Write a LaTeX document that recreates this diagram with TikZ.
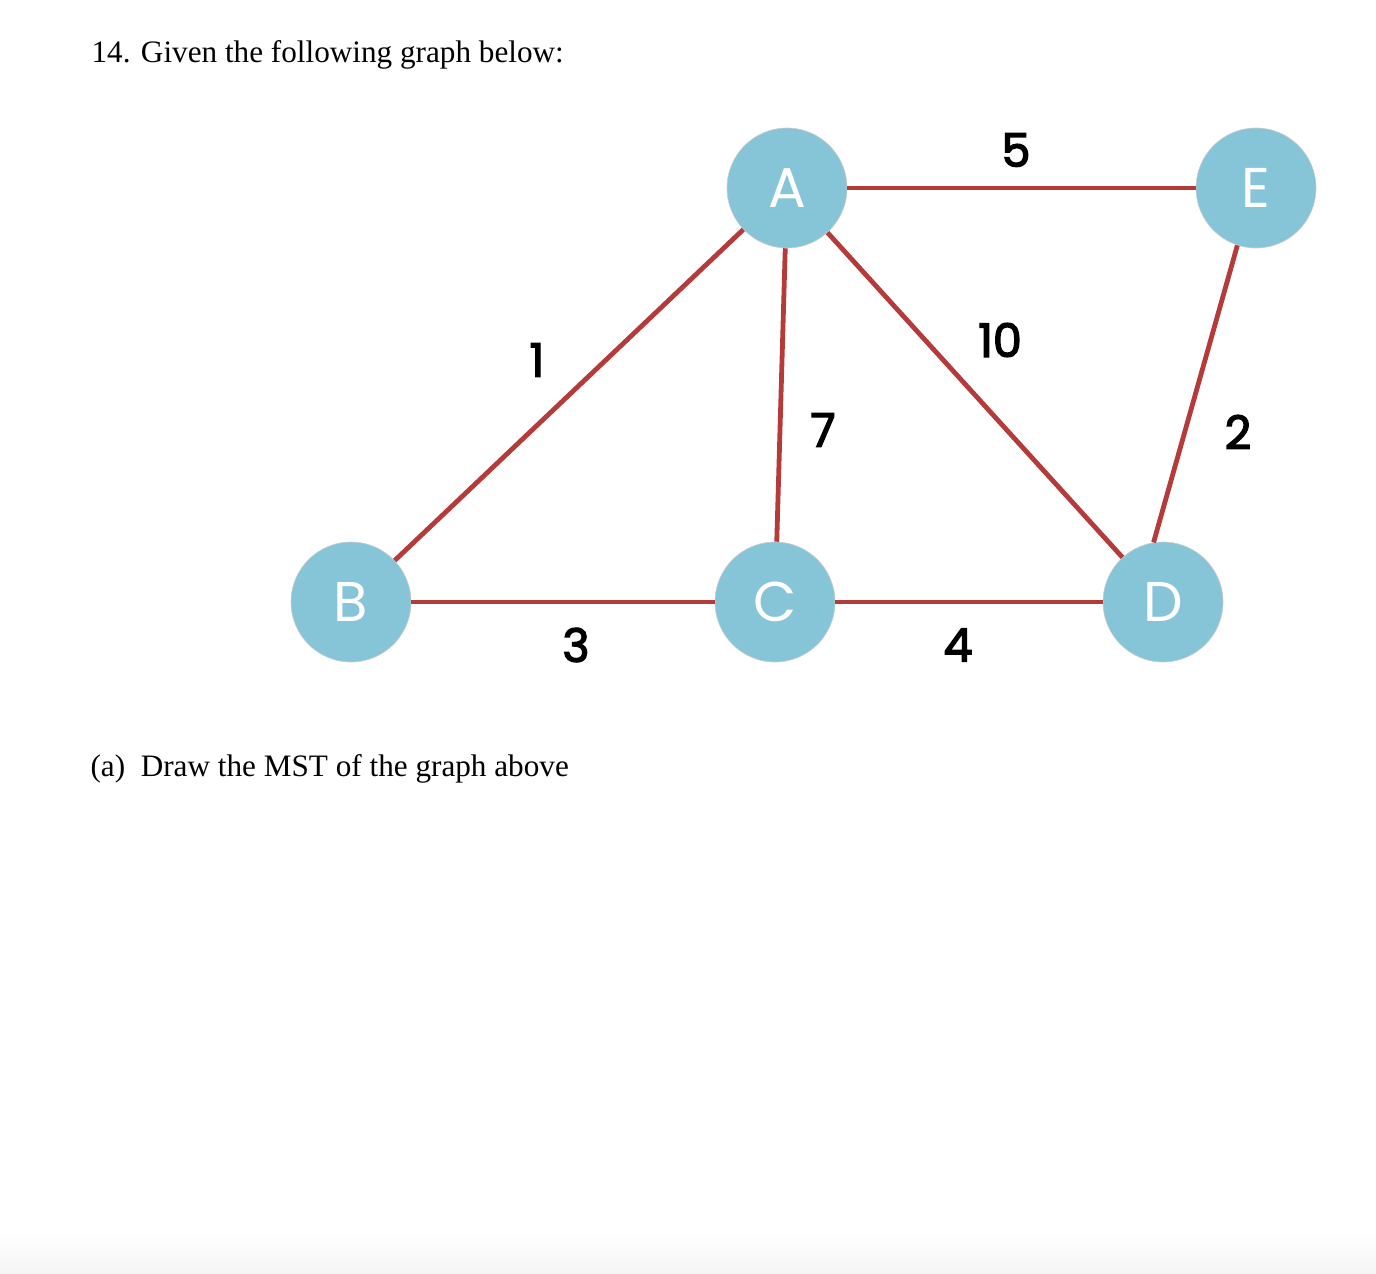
\documentclass[tikz,border=0pt]{standalone}
\usepackage{fontspec}
\setmainfont{Liberation Serif}
\newfontfamily\graphfont{Poppins}
\newfontfamily\numfont[FakeBold=3]{Poppins}
\usepackage{tikz}
\usetikzlibrary{arrows}

\definecolor{nodeblue}{HTML}{86C5D8}
\definecolor{edgered}{HTML}{B53B3B}

\begin{document}
\begin{tikzpicture}[x=0.5pt, y=-0.5pt, semithick,
  vertex/.style={circle, fill=nodeblue, draw=black!20, line width=0.3pt,
    minimum size=60pt, inner sep=0pt, text=white,
    font=\graphfont\fontsize{28}{28}\selectfont},
  weight/.style={inner sep=0pt, font=\numfont\fontsize{23}{23}\selectfont},
  link/.style={draw=edgered, line width=2.4pt}]

\useasboundingbox (0,0) rectangle (1376,1274);
\shade[top color=white, bottom color=black!4] (0,1232) rectangle (1376,1274);

\node[anchor=base west, inner sep=0pt, font=\fontsize{15.6}{19}\selectfont] (title) at (91,62) {14. Given the following graph below:};

\node[vertex] (A) at (787,188) {A};
\node[vertex] (E) at (1256,188) {E};
\node[vertex] (B) at (351,602) {B};
\node[vertex] (C) at (775,602) {C};
\node[vertex] (D) at (1163,602) {D};

\path[link] (A) edge (E)
      (A) edge (B)
      (A) edge (C)
      (A) edge (D)
      (E.252) edge (D.99)
      (B) edge (C)
      (C) edge (D);

\node[weight] (wAE) at (1016,150) {5};
\node[weight] (wAB) at (537,360) {1};
\node[weight] (wAC) at (823,430) {7};
\node[weight] (wAD) at (1000,340) {10};
\node[weight] (wED) at (1238,432) {2};
\node[weight] (wBC) at (576,645) {3};
\node[weight] (wCD) at (958,645) {4};

\node[anchor=base west, inner sep=0pt, font=\fontsize{15.6}{19}\selectfont] (part) at (90,776) {(a)\ \ Draw the MST of the graph above};

\end{tikzpicture}
\end{document}
